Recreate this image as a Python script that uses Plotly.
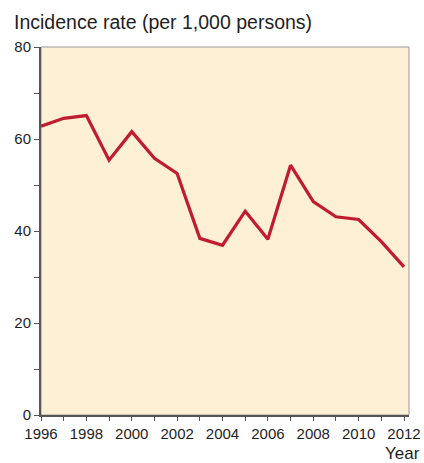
import plotly.graph_objects as go

years = list(range(1996, 2013))
rates = [62.8, 64.5, 65.1, 55.4, 61.6, 55.8, 52.5, 38.4, 36.9, 44.3, 38.2, 54.3, 46.4, 43.1, 42.5, 37.7, 32.2]
x_tickvals = list(range(1996, 2013, 2))
y_tickvals = [0, 20, 40, 60, 80]

fig = go.Figure()
fig.add_trace(go.Scatter(x=years, y=rates, mode="lines",
                         line=dict(color="#c11b2f", width=3.2), hoverinfo="skip"))

font = "Liberation Sans, Arial, sans-serif"
W, H = 424, 463
L, T, R, B = 41, 47, 15, 48
pw = W - L - R
fig.update_layout(
    template="none",
    width=W, height=H,
    margin=dict(l=L, r=R, t=T, b=B, pad=0, autoexpand=False),
    paper_bgcolor="white", plot_bgcolor="#fdf0d4",
    showlegend=False,
    font=dict(family=font, size=15, color="#1e1e1e"),
    xaxis=dict(range=[1996, 2012.22], tickvals=x_tickvals, ticks="outside", ticklen=4,
               tickcolor="#555", tickwidth=1.2, showgrid=False, zeroline=False, automargin=False,
               showline=True, linecolor="#555", linewidth=2,
               minor=dict(dtick=1, tick0=1996, ticks="outside", ticklen=4, tickcolor="#555", tickwidth=1.2, showgrid=False),
               tickfont=dict(size=15, color="#1e1e1e")),
    yaxis=dict(range=[0, 80], tickvals=y_tickvals, ticks="outside", ticklen=5,
               tickcolor="#555", tickwidth=1.2, showgrid=False, zeroline=False, automargin=False,
               showline=True, linecolor="#555", linewidth=2,
               minor=dict(dtick=10, tick0=0, ticks="outside", ticklen=5, tickcolor="#555", tickwidth=1.2, showgrid=False),
               tickfont=dict(size=15, color="#1e1e1e")),
    shapes=[dict(type="rect", xref="paper", yref="paper", x0=0, x1=1, y0=0, y1=1,
                 line=dict(color="#999", width=1), layer="below")],
    annotations=[
        dict(text="Incidence rate (per 1,000 persons)", xref="paper", yref="paper",
             x=(12 - L) / pw, y=1.0, yshift=T - 22, xanchor="left", yanchor="middle", showarrow=False,
             font=dict(family=font, size=19.5, color="#1e1e1e")),
        dict(text="Year", xref="paper", yref="paper", x=(422 - L) / pw, y=0, yshift=-38,
             xanchor="right", yanchor="middle", showarrow=False,
             font=dict(family=font, size=17, color="#1e1e1e")),
    ],
)
fig.write_html("out.html", config={"displayModeBar": False},
               post_script="document.body.style.margin='0';document.documentElement.style.overflow='hidden';")
